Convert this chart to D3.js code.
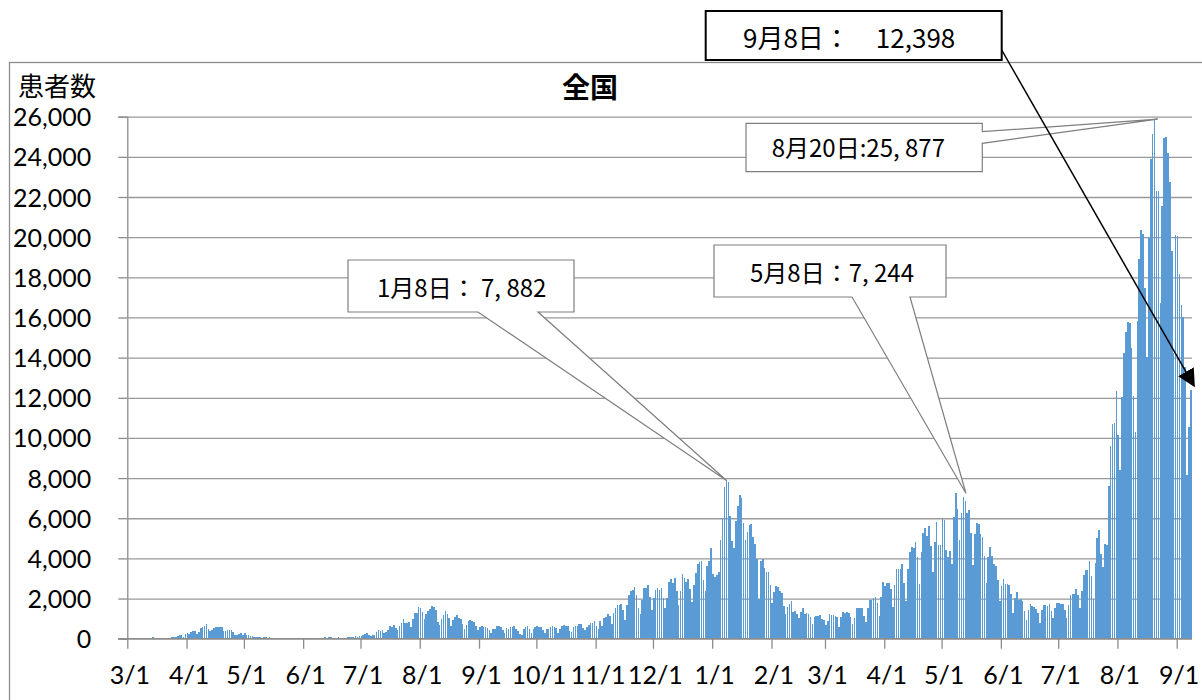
<!DOCTYPE html>
<html>
<head>
<meta charset="utf-8">
<script src="https://cdn.jsdelivr.net/npm/d3@7"></script>
<style>
body { margin: 0; background: #fff; }
svg { display: block; }
</style>
</head>
<body>
<div id="chart"></div>
<script>
var startDate = new Date(2020, 2, 1)

// daily new cases, by month
var mar2020 = [14,15,11,33,33,59,47,33,26,54,52,55,41,62,36,15,44,39,36,52,53,40,39,65,94,96,112,200,173,87,220]
var apr2020 = [266,236,353,363,383,253,355,513,576,644,720,507,390,457,549,582,583,569,568,373,377,446,437,443,348,201,174,251,267,200]
var may2020 = [263,207,200,115,124,100,96,83,106,54,63,79,55,99,46,30,20,30,31,31,35,21,30,21,21,31,32,35,51,38,43]
var jun2020 = [35,51,41,41,39,45,47,19,38,42,49,61,45,73,68,48,46,57,68,55,56,45,52,95,77,107,92,110,86,130]
var jul2020 = [122,194,250,272,208,154,206,206,355,428,389,409,262,332,449,623,591,665,510,419,632,795,981,769,780,841,598,981,1264,1301,1580]
var aug2020 = [1536,1331,957,1237,1356,1485,1605,1565,1442,808,700,966,1177,1358,1233,1017,627,908,1071,1183,1032,1000,749,475,690,874,921,871,832,636,457]
var sep2020 = [595,612,586,564,543,423,296,500,508,650,648,579,423,271,511,468,572,593,622,485,388,249,192,462,582,639,477,286,503,584]
var oct2020 = [623,563,585,424,283,501,488,593,637,561,526,287,496,627,680,650,617,386,313,591,621,634,746,736,551,451,566,705,778,771,867]
var nov2020 = [617,488,859,634,1051,1090,1207,1116,747,1272,1547,1657,1700,1735,1437,947,1702,2201,2388,2427,2596,2168,1519,1229,1940,2503,2504,2674,2068,1433]
var dec2020 = [2029,2418,2518,2438,2509,2029,1513,2024,2810,2971,2787,3041,2376,1671,2392,3209,3016,2834,2993,2494,1813,2651,3271,3740,3823,3881,2948,2395,3606,3852,4515]
var jan2021 = [3243,3058,3158,3325,4915,6001,7570,7882,7790,6094,4876,4538,5873,6604,7133,7014,5759,4925,5320,5654,5699,5045,4717,3990,1989,3852,3960,3538,3342,3342,2673]
var feb2021 = [1792,2324,2631,2576,2365,2279,1608,1216,1569,1714,1881,1353,1359,1250,1036,1307,1527,1238,1271,1220,1068,739,1068,1139,1129,1195,993,919]
var mar2021 = [694,883,1226,1161,1194,1111,1057,601,1084,1316,1286,1320,1290,1062,729,1018,1505,1536,1517,1522,1119,816,1521,1920,1915,2045,2069,1785,1141,2083,2843]
var apr2021 = [2606,2765,2772,2475,1570,2661,3454,3449,3484,3697,2777,1897,3451,4312,4576,4531,4793,4091,2708,4343,5285,5500,5117,5606,4603,3314,4831,5789,4677,4680]
var may2021 = [5984,5897,4416,4084,4364,3733,6054,7244,6478,4895,6243,7058,6873,6262,6419,5247,3679,5209,5768,5710,5233,5045,4118,2765,4061,4556,4136,3738,3644,2930,1887]
var jun2021 = [2632,2949,2719,2702,2673,2225,1299,2012,2319,1924,1979,1880,1387,935,1420,1753,1625,1578,1502,1298,786,1407,1695,1684,1616,1730,1386,1047,1508,1760]
var jul2021 = [1791,1744,1730,1433,1011,1675,2190,2246,2238,2452,2200,1506,2385,3194,3420,3418,3882,3099,1990,3758,5024,5395,4225,3574,4692,4689,7629,9576,10693,10744,12341]
var aug2021 = [10159,8382,12015,14207,15263,15753,15748,14472,12076,10317,15812,18889,20366,20151,17488,14009,19955,23917,25146,25877,22300,22289,16740,21570,24956,24975,24174,22753,19294,14250,20112]
var sep2021 = [20034,18166,16620,16040,13550,8150,10560,12398]

var cases = [].concat(mar2020, apr2020, may2020, jun2020, jul2020, aug2020, sep2020, oct2020, nov2020, dec2020,
                      jan2021, feb2021, mar2021, apr2021, may2021, jun2021, jul2021, aug2021, sep2021)
var days = cases.map(function(v, i){ return {date: d3.timeDay.offset(startDate, i), value: v} })

var yTicks = [0,2000,4000,6000,8000,10000,12000,14000,16000,18000,20000,22000,24000,26000]

var calloutLabels = ['1月8日： 7, 882', '5月8日：7, 244', '8月20日:25, 877']
var calloutDates = [new Date(2021, 0, 8), new Date(2021, 4, 8), new Date(2021, 7, 20)]
var arrowLabel = '9月8日：　12,398'
var arrowDate = new Date(2021, 8, 8)

var width = 1202, height = 700
var plotL = 127.3, plotR = 1192, plotT = 116.7, plotB = 638.7

var svg = d3.select('#chart')
            .append('svg')
            .attr('width', width)
            .attr('height', height)

var x = d3.scaleTime()
          .domain([startDate, d3.timeDay.offset(startDate, days.length)])
          .range([plotL, plotR])
var dayW = (plotR - plotL) / days.length
var y = d3.scaleLinear()
          .domain([0, 26000])
          .range([plotB, plotT])

function valueOn(date){
    return days.find(function(d){ return +d.date == +date }).value
}

// chart frame
svg.append('rect')
    .attr('x', 9.5)
    .attr('y', 62.5)
    .attr('width', 1200)
    .attr('height', 700)
    .attr('fill', 'none')
    .attr('stroke', '#8c8c8c')
    .attr('stroke-width', 1.3)

// gridlines + y axis
var yAxis = svg.append('g')
    .attr('transform', 'translate(' + plotL + ',0)')
    .call(d3.axisLeft(y).tickValues(yTicks).tickFormat(d3.format(',')).tickSize(9).tickPadding(0))
yAxis.select('.domain').attr('stroke', '#8c8c8c').attr('stroke-width', 1.3)
yAxis.selectAll('.tick line').attr('stroke', '#8c8c8c').attr('stroke-width', 1.3)
yAxis.selectAll('.tick').append('line')
    .attr('x1', 0)
    .attr('x2', plotR - plotL)
    .attr('stroke', '#999')
    .attr('stroke-width', 1.3)
yAxis.selectAll('.tick text')
    .attr('x', -36)
    .attr('dy', '0.36em')
    .style('font-family', 'Lato, sans-serif')
    .style('font-size', '25px')
    .attr('fill', '#000')

// bars
svg.append('g')
    .attr('shape-rendering', 'crispEdges')
    .selectAll('rect')
    .data(days)
    .join('rect')
    .attr('x', function(d){ return x(d.date) })
    .attr('width', dayW * 0.84)
    .attr('y', function(d){ return y(d.value) })
    .attr('height', function(d){ return plotB - y(d.value) })
    .attr('fill', '#5b9bd5')

// x axis
var xAxis = svg.append('g')
    .attr('transform', 'translate(0,' + plotB + ')')
    .call(d3.axisBottom(x).ticks(d3.timeMonth.every(1)).tickFormat(d3.timeFormat('%-m/%-d')).tickSize(10).tickSizeOuter(0))
xAxis.select('.domain')
    .attr('d', 'M' + (plotL - 9) + ',0H' + plotR)
    .attr('stroke', '#8c8c8c')
    .attr('stroke-width', 1.3)
xAxis.selectAll('.tick line').attr('stroke', '#8c8c8c').attr('stroke-width', 1.3)
xAxis.selectAll('.tick text')
    .attr('y', 45)
    .attr('dy', 0)
    .attr('dx', 2)
    .style('font-family', 'Lato, sans-serif')
    .style('font-size', '25px')
    .attr('fill', '#000')

// titles
svg.append('text')
    .attr('x', 590)
    .attr('y', 98)
    .attr('text-anchor', 'middle')
    .style('font-family', '"Noto Sans CJK JP", sans-serif')
    .style('font-size', '28px')
    .style('font-weight', 'bold')
    .text('全国')
svg.append('text')
    .attr('x', 18)
    .attr('y', 96)
    .style('font-family', '"Noto Sans CJK JP", sans-serif')
    .style('font-size', '26px')
    .text('患者数')

// callouts
var boxes = [
    {x: 348, y: 260, w: 226, h: 52, side: 'bottom', a: 478, b: 538, dx: 0, tx: 377, ty: 297},
    {x: 714, y: 245, w: 232, h: 52, side: 'bottom', a: 852, b: 910, dx: 10, tx: 750, ty: 282},
    {x: 746, y: 123.3, w: 236.3, h: 48.4, side: 'right', a: 131.7, b: 143.3, dx: 3, tx: 771.7, ty: 157}
]
boxes.forEach(function(bx, i){
    var tipX = x(calloutDates[i]) + dayW / 2 + bx.dx
    var tipY = y(valueOn(calloutDates[i]))
    var p
    if(bx.side == 'bottom'){
        p = 'M' + bx.x + ',' + bx.y + 'H' + (bx.x + bx.w) + 'V' + (bx.y + bx.h) + 'H' + bx.b +
            'L' + tipX + ',' + tipY + 'L' + bx.a + ',' + (bx.y + bx.h) + 'H' + bx.x + 'Z'
    }else{
        p = 'M' + bx.x + ',' + bx.y + 'H' + (bx.x + bx.w) + 'V' + bx.a +
            'L' + tipX + ',' + tipY + 'L' + (bx.x + bx.w) + ',' + bx.b + 'V' + (bx.y + bx.h) + 'H' + bx.x + 'Z'
    }
    svg.append('path')
        .attr('d', p)
        .attr('fill', '#fff')
        .attr('stroke', '#7f7f7f')
        .attr('stroke-width', 1.2)
    svg.append('text')
        .attr('x', bx.tx)
        .attr('y', bx.ty)
        .style('font-family', '"Noto Sans CJK JP", sans-serif')
        .style('font-size', '24px')
        .text(calloutLabels[i])
})

// arrow callout
svg.append('defs').append('marker')
    .attr('id', 'head')
    .attr('viewBox', '0 0 10 10')
    .attr('refX', 9)
    .attr('refY', 5)
    .attr('markerWidth', 18)
    .attr('markerHeight', 18)
    .attr('markerUnits', 'userSpaceOnUse')
    .attr('orient', 'auto')
    .append('path')
    .attr('d', 'M0,0L10,5L0,10Z')
    .attr('fill', '#000')
svg.append('line')
    .attr('x1', 1001.7)
    .attr('y1', 50)
    .attr('x2', x(arrowDate) + dayW + 2)
    .attr('y2', y(valueOn(arrowDate)) - 4)
    .attr('stroke', '#000')
    .attr('stroke-width', 1.5)
    .attr('marker-end', 'url(#head)')
svg.append('rect')
    .attr('x', 705.7)
    .attr('y', 11)
    .attr('width', 296)
    .attr('height', 49)
    .attr('fill', '#fff')
    .attr('stroke', '#000')
    .attr('stroke-width', 2)
svg.append('text')
    .attr('x', 743)
    .attr('y', 48)
    .style('font-family', '"Noto Sans CJK JP", sans-serif')
    .style('font-size', '26px')
    .text(arrowLabel)
</script>
</body>
</html>
